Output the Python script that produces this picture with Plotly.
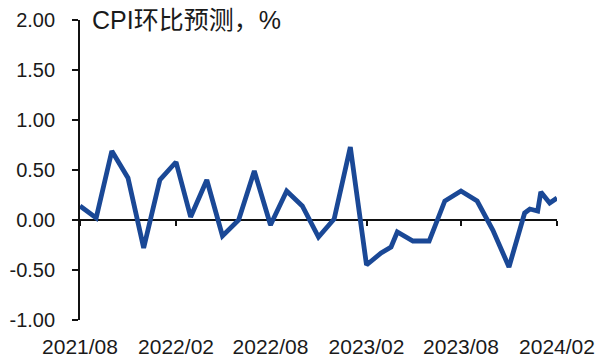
import plotly.graph_objects as go

# CPI month-over-month forecast, %
dates = [
    "2021-08-01", "2021-09-01", "2021-10-01", "2021-11-01", "2021-12-01",
    "2022-01-01", "2022-02-01", "2022-03-01", "2022-04-01", "2022-05-01",
    "2022-06-01", "2022-07-01", "2022-08-01", "2022-09-01", "2022-10-01",
    "2022-11-01", "2022-12-01", "2023-01-01", "2023-02-01", "2023-03-01",
    "2023-03-20", "2023-04-01", "2023-05-01", "2023-06-01", "2023-07-01",
    "2023-08-01", "2023-09-01", "2023-10-01", "2023-11-01", "2023-12-01",
    "2023-12-11", "2023-12-26", "2024-01-01", "2024-01-18", "2024-02-01",
]
cpi_mom = [
    0.14, 0.02, 0.69, 0.42, -0.28,
    0.40, 0.58, 0.03, 0.40, -0.16,
    0.00, 0.49, -0.05, 0.29, 0.14,
    -0.17, 0.01, 0.73, -0.45, -0.33,
    -0.27, -0.12, -0.21, -0.21, 0.19,
    0.29, 0.19, -0.10, -0.47, 0.07,
    0.11, 0.09, 0.28, 0.17, 0.22,
]

x_tick_vals = ["2021-08-01", "2022-02-01", "2022-08-01",
               "2023-02-01", "2023-08-01", "2024-02-01"]
x_tick_text = ["2021/08", "2022/02", "2022/08", "2023/02", "2023/08", "2024/02"]
y_tick_vals = [-1.0, -0.5, 0.0, 0.5, 1.0, 1.5, 2.0]
y_tick_text = [f"{v:.2f}" for v in y_tick_vals]

title_text = "CPI环比预测，%"

FONT = "Arial, 'Liberation Sans', 'Noto Sans CJK SC', sans-serif"
LINE_BLUE = "#1a4896"
Y_MIN, Y_MAX = -1.0, 2.0

fig = go.Figure()

fig.add_trace(go.Scatter(
    x=dates, y=cpi_mom, mode="lines",
    line=dict(color=LINE_BLUE, width=4.8),
    hoverinfo="x+y", showlegend=False,
))
# companion trace so the zero-line axis (x2) renders its ticks
fig.add_trace(go.Scatter(
    x=dates, y=cpi_mom, xaxis="x2", mode="lines",
    line=dict(width=0), opacity=0, hoverinfo="skip", showlegend=False,
))

fig.update_layout(
    width=595, height=359,
    margin=dict(l=80, r=38, t=20, b=39),
    paper_bgcolor="white", plot_bgcolor="white",
    font=dict(family=FONT, size=20, color="#1a1a1a"),
    xaxis=dict(
        type="date",
        range=[dates[0], dates[-1]],
        tickvals=x_tick_vals, ticktext=x_tick_text,
        showline=False, showgrid=False, zeroline=False, ticks="",
        ticklabelstandoff=12,
        tickfont=dict(size=21),
        automargin=False,
    ),
    xaxis2=dict(
        type="date",
        overlaying="x", matches="x",
        anchor="free", position=(0 - Y_MIN) / (Y_MAX - Y_MIN),
        side="bottom",
        tickvals=x_tick_vals,
        showticklabels=False,
        showline=True, linecolor="#111111", linewidth=1.6,
        ticks="outside", ticklen=5, tickwidth=1.6, tickcolor="#111111",
        showgrid=False, zeroline=False,
        layer="below traces",
    ),
    yaxis=dict(
        range=[Y_MIN, Y_MAX],
        tickvals=y_tick_vals, ticktext=y_tick_text,
        showline=True, linecolor="#111111", linewidth=1.8,
        ticks="outside", ticklen=6, tickwidth=1.6, tickcolor="#111111",
        showgrid=False, zeroline=False,
        ticklabelstandoff=13,
        tickfont=dict(size=20),
        automargin=False,
    ),
    annotations=[dict(
        text=title_text,
        xref="paper", yref="paper",
        x=0.022, y=1.0, xanchor="left", yanchor="middle",
        showarrow=False,
        font=dict(family=FONT, size=25, color="#1a1a1a"),
    )],
)

fig.write_html("out.html")
